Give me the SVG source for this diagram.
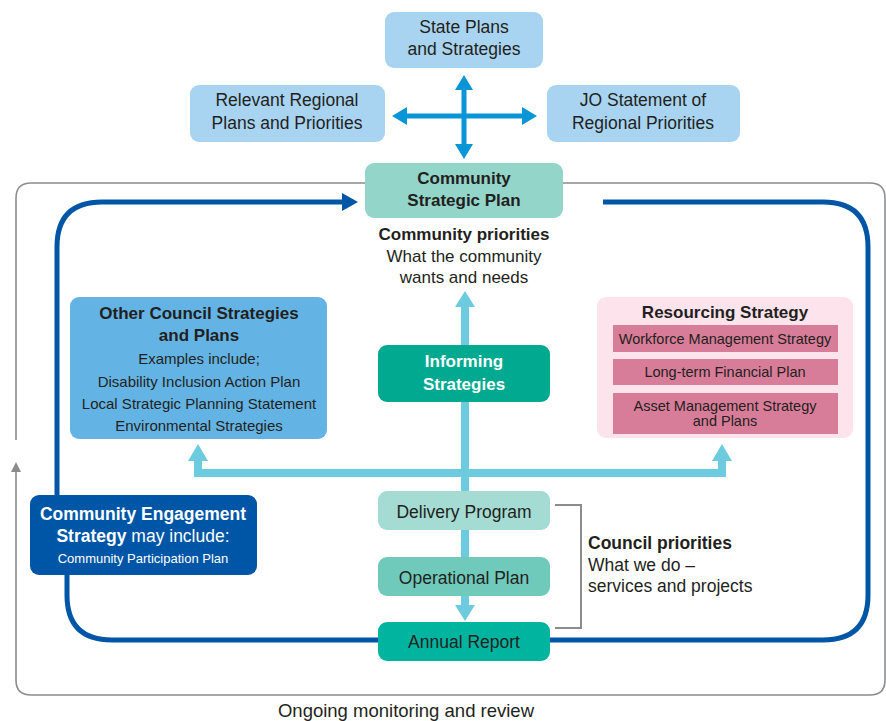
<svg xmlns="http://www.w3.org/2000/svg" width="886" height="721" viewBox="0 0 886 721">
<style>
text{font-family:"Liberation Sans",Arial,sans-serif;fill:#231f20;text-anchor:middle}
.b{font-weight:bold}
.w{fill:#fff}
.t17{font-size:17.5px}
.t16{font-size:17px}
.t15{font-size:17px}
.t14{font-size:15px}
.t13{font-size:14.5px}
.top{fill:#a8d4f1}
.gray{fill:none;stroke:#8a8c8e;stroke-width:1.6}
.dk{fill:none;stroke:#0056a6;stroke-width:5}
.lb{fill:none;stroke:#6dcbe0;stroke-width:8}
.lbf{fill:#6dcbe0}
.cb{fill:none;stroke:#0a96d6;stroke-width:5}
.cbf{fill:#0a96d6}
.pk{fill:#d87d99}
</style>
<rect width="886" height="721" fill="#fff"/>
<g id="connectors">
  <path class="gray" d="M365,183 H31 Q16,183 16,198 V440"/>
  <path class="gray" d="M16,470 V680 Q16,695 31,695 H870 Q885,695 885,680 V198 Q885,183 870,183 H563"/>
  <polygon fill="#8a8c8e" points="11,472 16,462 21,472"/>
  <path class="cb" d="M464,88 V146 M405,116 H524"/>
  <polygon class="cbf" points="455,90 464,75 473,90"/>
  <polygon class="cbf" points="455,144 464,159 473,144"/>
  <polygon class="cbf" points="407,107 392,116 407,125"/>
  <polygon class="cbf" points="522,107 537,116 522,125"/>
  <path class="dk" d="M57,495 V247 Q57,202 102,202 H345"/>
  <polygon fill="#0056a6" points="342,193 358,202 342,211"/>
  <path class="dk" d="M603,202 H823 Q868,202 868,247 V595 Q868,640 823,640 H550"/>
  <path class="dk" d="M378,640 H112 Q67,640 67,595 V570"/>
  <path class="lb" d="M465,306 V606"/>
  <polygon class="lbf" points="455,307 465,291 475,307"/>
  <polygon class="lbf" points="455,605 465,621 475,605"/>
  <path class="lb" d="M198,460 V473 H722 V460"/>
  <polygon class="lbf" points="188,461 198,444 208,461"/>
  <polygon class="lbf" points="712,461 722,444 732,461"/>
  <polyline class="gray" style="stroke-width:2" points="555,505 581,505 581,628 555,628"/>
</g>
<g id="state">
  <rect class="top" x="385" y="12" width="158" height="56" rx="9"/>
  <text class="t17" x="464" y="33">State Plans</text>
  <text class="t17" x="464" y="55">and Strategies</text>
</g>
<g id="regional">
  <rect class="top" x="190" y="85" width="195" height="57" rx="9"/>
  <text class="t17" x="287" y="106">Relevant Regional</text>
  <text class="t17" x="287" y="129">Plans and Priorities</text>
</g>
<g id="jo">
  <rect class="top" x="547" y="85" width="193" height="57" rx="9"/>
  <text class="t17" x="643" y="106">JO Statement of</text>
  <text class="t17" x="643" y="129">Regional Priorities</text>
</g>
<g id="csp">
  <rect fill="#93d5c9" x="365" y="163" width="198" height="55" rx="9"/>
  <text class="t16 b" x="464" y="184">Community</text>
  <text class="t16 b" x="464" y="206">Strategic Plan</text>
</g>
<g id="community-priorities">
  <text class="t15 b" x="464" y="240">Community priorities</text>
  <text class="t15" x="464" y="262">What the community</text>
  <text class="t15" x="464" y="283">wants and needs</text>
</g>
<g id="other">
  <rect fill="#63b4e4" x="70" y="297" width="257" height="142" rx="9"/>
  <text class="t16 b" x="199" y="319">Other Council Strategies</text>
  <text class="t16 b" x="199" y="341">and Plans</text>
  <text class="t14" x="199" y="364">Examples include;</text>
  <text class="t14" x="199" y="387">Disability Inclusion Action Plan</text>
  <text class="t14" x="199" y="409">Local Strategic Planning Statement</text>
  <text class="t14" x="199" y="431">Environmental Strategies</text>
</g>
<g id="informing">
  <rect fill="#00a98f" x="378" y="345" width="172" height="57" rx="9"/>
  <text class="t16 b w" x="464" y="367">Informing</text>
  <text class="t16 b w" x="464" y="390">Strategies</text>
</g>
<g id="resourcing">
  <rect fill="#fce3ec" x="597" y="297" width="256" height="141" rx="9"/>
  <text class="t16 b" x="725" y="318">Resourcing Strategy</text>
  <rect class="pk" x="613" y="325" width="225" height="27"/>
  <text class="t13" x="725" y="344">Workforce Management Strategy</text>
  <rect class="pk" x="613" y="359" width="225" height="26"/>
  <text class="t13" x="725" y="377">Long-term Financial Plan</text>
  <rect class="pk" x="613" y="393" width="225" height="41"/>
  <text class="t13" x="725" y="411">Asset Management Strategy</text>
  <text class="t13" x="725" y="426">and Plans</text>
</g>
<g id="ces">
  <rect fill="#0056a6" x="30" y="495" width="227" height="80" rx="9"/>
  <text class="t17 b w" x="143" y="520">Community Engagement</text>
  <text class="t17 w" x="143" y="542"><tspan class="b">Strategy</tspan> may include:</text>
  <text class="w" style="font-size:13px" x="143" y="563">Community Participation Plan</text>
</g>
<g id="delivery">
  <rect fill="#a4dbd3" x="378" y="491" width="172" height="39" rx="9"/>
  <text class="t17" x="464" y="518">Delivery Program</text>
</g>
<g id="operational">
  <rect fill="#6fcabb" x="378" y="557" width="172" height="39" rx="9"/>
  <text class="t17" x="464" y="584">Operational Plan</text>
</g>
<g id="annual">
  <rect fill="#00b4a0" x="378" y="622" width="172" height="39" rx="9"/>
  <text class="t17" x="464" y="648">Annual Report</text>
</g>
<g id="council-priorities">
  <text class="t17 b" x="588" y="549" style="text-anchor:start">Council priorities</text>
  <text class="t17" x="588" y="571" style="text-anchor:start">What we do –</text>
  <text class="t17" x="588" y="592" style="text-anchor:start">services and projects</text>
</g>
<g id="monitoring">
  <text style="font-size:18.5px" x="406" y="717">Ongoing monitoring and review</text>
</g>
</svg>
